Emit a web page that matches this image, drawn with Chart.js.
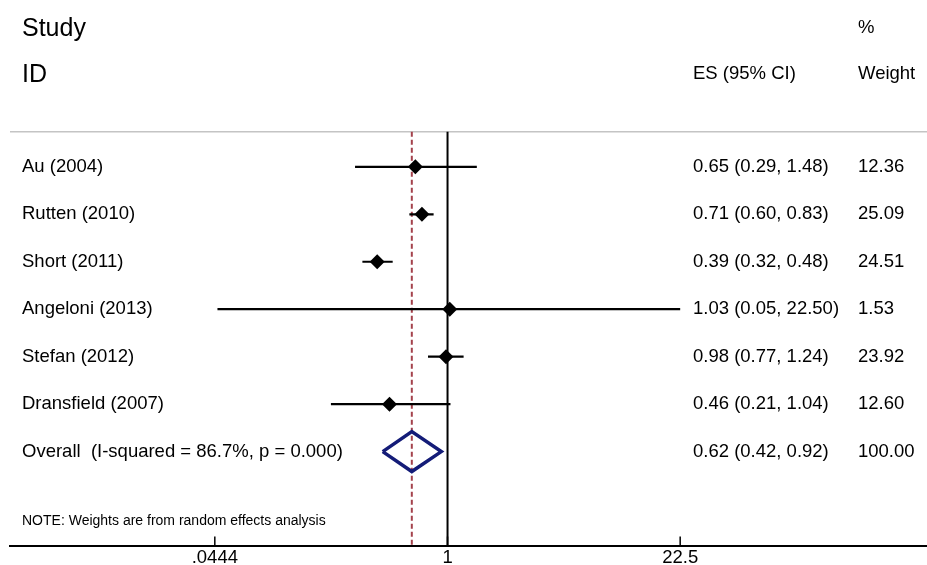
<!DOCTYPE html>
<html>
<head>
<meta charset="utf-8">
<script src="https://cdn.jsdelivr.net/npm/chart.js@4"></script>
<style>
  html, body { margin: 0; padding: 0; background: #fff; }
  canvas { display: block; }
</style>
</head>
<body>
<canvas id="forest" width="927" height="565"></canvas>
<script>
const studies = ['Au (2004)', 'Rutten (2010)', 'Short (2011)', 'Angeloni (2013)', 'Stefan (2012)', 'Dransfield (2007)'];
const es = [0.65, 0.71, 0.39, 1.03, 0.98, 0.46];
const lower = [0.29, 0.60, 0.32, 0.046, 0.77, 0.21];
const upper = [1.48, 0.83, 0.48, 22.5, 1.24, 1.04];
const weights = ['12.36', '25.09', '24.51', '1.53', '23.92', '12.60'];

const overallLabel = 'Overall  (I-squared = 86.7%, p = 0.000)';
const overallES = 0.62;
const overallCI = [0.42, 0.92];
const overallWeight = '100.00';

const tickValues = [0.0444, 1, 22.5];
const tickLabels = ['.0444', '1', '22.5'];

const FONT = '"Liberation Sans", Arial, sans-serif';
const overallRow = studies.length;

// one line per study CI
const ciSets = studies.map((s, i) => ({
  type: 'line',
  data: [{ x: lower[i], y: i }, { x: upper[i], y: i }],
  borderColor: '#000',
  borderWidth: 2.2,
  pointRadius: 0,
  order: 3
}));

// text columns etc drawn on top of the chart
const textPlugin = {
  id: 'forestText',
  afterDraw(chart) {
    const ctx = chart.ctx;
    const ys = chart.scales.y;
    const xs = chart.scales.x;
    ctx.save();
    ctx.fillStyle = '#000';
    ctx.textBaseline = 'middle';
    ctx.textAlign = 'left';

    ctx.font = '25px ' + FONT;
    ctx.fillText('Study', 22, ys.getPixelForValue(-2.91));
    ctx.fillText('ID', 22, ys.getPixelForValue(-1.94));

    ctx.font = '18.5px ' + FONT;
    ctx.fillText('%', 858, ys.getPixelForValue(-2.92));
    ctx.fillText('ES (95% CI)', 693, ys.getPixelForValue(-1.95));
    ctx.fillText('Weight', 858, ys.getPixelForValue(-1.95));

    studies.forEach((s, i) => {
      const y = ys.getPixelForValue(i);
      ctx.fillText(s, 22, y);
      ctx.fillText(es[i].toFixed(2) + ' (' + lower[i].toFixed(2) + ', ' + upper[i].toFixed(2) + ')', 693, y);
      ctx.fillText(weights[i], 858, y);
    });
    const oy = ys.getPixelForValue(overallRow);
    ctx.fillText(overallLabel, 22, oy);
    ctx.fillText(overallES.toFixed(2) + ' (' + overallCI[0].toFixed(2) + ', ' + overallCI[1].toFixed(2) + ')', 693, oy);
    ctx.fillText(overallWeight, 858, oy);

    ctx.font = '14px ' + FONT;
    ctx.fillText('NOTE: Weights are from random effects analysis', 22, ys.getPixelForValue(7.47));

    // little upward ticks on the axis
    ctx.strokeStyle = '#000';
    ctx.lineWidth = 1.5;
    const by = chart.chartArea.bottom;
    tickValues.forEach(v => {
      const x = xs.getPixelForValue(v);
      ctx.beginPath();
      ctx.moveTo(x, by - 9);
      ctx.lineTo(x, by);
      ctx.stroke();
    });
    ctx.restore();
  }
};

const ctx = document.getElementById('forest').getContext('2d');
new Chart(ctx, {
  type: 'scatter',
  data: {
    datasets: [
      {
        // header rule
        type: 'line',
        data: [{ x: 0.002864, y: -0.74 }, { x: 612, y: -0.74 }],
        borderColor: '#c4c4c4',
        borderWidth: 1.5,
        pointRadius: 0,
        order: 6
      },
      {
        // overall effect, dashed
        type: 'line',
        data: [{ x: overallES, y: -0.74 }, { x: overallES, y: 7.98 }],
        borderColor: '#a4424c',
        borderWidth: 2,
        borderDash: [5, 3],
        pointRadius: 0,
        order: 5
      },
      {
        // null line
        type: 'line',
        data: [{ x: 1, y: -0.74 }, { x: 1, y: 7.98 }],
        borderColor: '#000',
        borderWidth: 2,
        pointRadius: 0,
        order: 4
      },
      ...ciSets,
      {
        // point estimates
        data: es.map((v, i) => ({ x: v, y: i })),
        pointStyle: 'rectRot',
        pointRadius: 7.5,
        backgroundColor: '#000',
        borderColor: '#000',
        borderWidth: 0,
        order: 2
      },
      {
        // overall diamond
        type: 'line',
        data: [
          { x: overallCI[0], y: overallRow },
          { x: overallES, y: overallRow - 0.42 },
          { x: overallCI[1], y: overallRow },
          { x: overallES, y: overallRow + 0.42 },
          { x: overallCI[0], y: overallRow }
        ],
        borderColor: '#141c78',
        borderWidth: 3.5,
        borderJoinStyle: 'miter',
        pointRadius: 0,
        order: 1
      }
    ]
  },
  options: {
    responsive: false,
    animation: false,
    layout: { autoPadding: false, padding: { left: 10, right: 0, top: 0, bottom: -5 } },
    plugins: {
      legend: { display: false },
      tooltip: { enabled: false }
    },
    scales: {
      x: {
        type: 'logarithmic',
        position: 'bottom',
        min: 0.002864,
        max: 612,
        grid: { display: false, drawTicks: false },
        border: { display: true, color: '#000', width: 2 },
        afterBuildTicks: s => { s.ticks = tickValues.map(v => ({ value: v })); },
        ticks: {
          autoSkip: false,
          maxRotation: 0,
          padding: 3,
          color: '#000',
          font: { family: FONT, size: 18.5, lineHeight: 1 },
          callback: (val, i) => tickLabels[i]
        }
      },
      y: {
        type: 'linear',
        display: false,
        reverse: true,
        min: -3.516,
        max: 7.979
      }
    }
  },
  plugins: [textPlugin]
});
</script>
</body>
</html>
